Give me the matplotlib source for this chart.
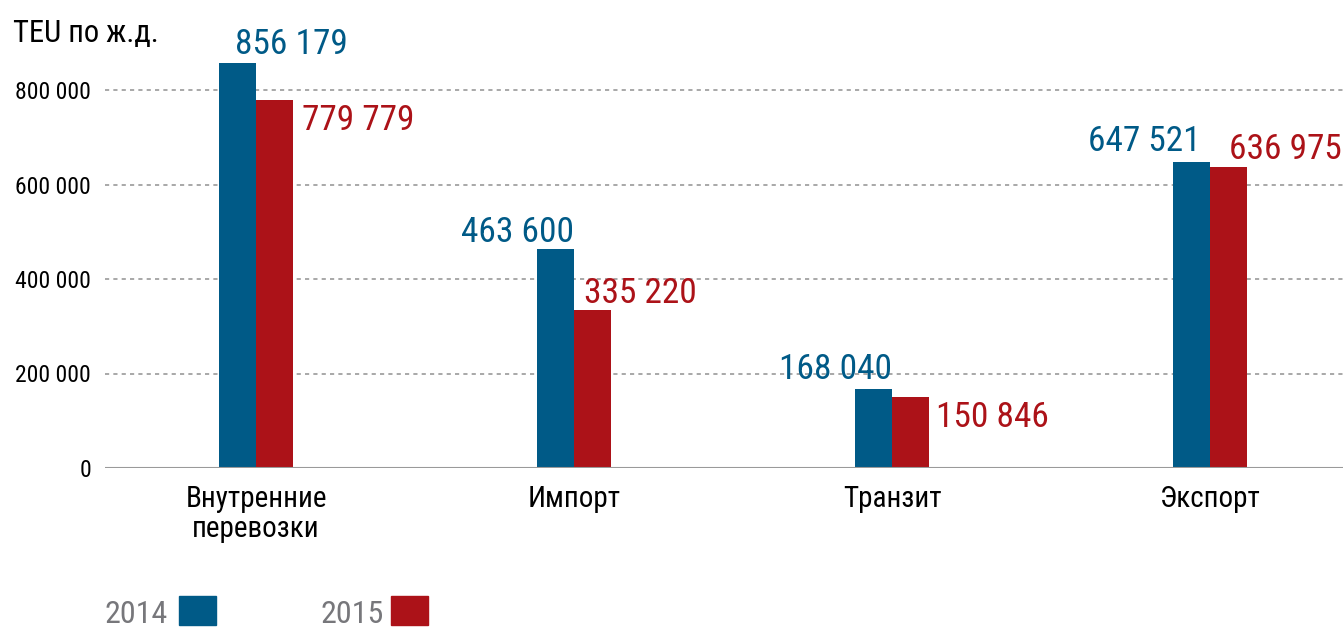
import matplotlib
matplotlib.use("Agg")
import matplotlib.pyplot as plt
from matplotlib.patches import Rectangle

plt.rcParams["font.family"] = ["Roboto Condensed", "Noto Sans Condensed",
                               "DejaVu Sans Condensed", "Liberation Sans Narrow",
                               "Open Sans Condensed", "Roboto"]
plt.rcParams["font.stretch"] = "condensed"

categories = ["Внутренние\nперевозки", "Импорт", "Транзит", "Экспорт"]
values_2014 = [856179, 463600, 168040, 647521]
values_2015 = [779779, 335220, 150846, 636975]
labels_2014 = ["856 179", "463 600", "168 040", "647 521"]
labels_2015 = ["779 779", "335 220", "150 846", "636 975"]
yticks = [0, 200000, 400000, 600000, 800000]
ytick_labels = ["0", "200 000", "400 000", "600 000", "800 000"]
years = ["2014", "2015"]

BLUE = "#005a87"
RED = "#ac1218"
GRAY = "#77777b"

fig = plt.figure(figsize=(13.43, 6.27), dpi=100)
# axes: x from 105 px to right edge, zero at y=468 px
ax = fig.add_axes([105 / 1343, (627 - 468) / 627, 1 - 105 / 1343, 468 / 627])

w = 0.116
x = list(range(len(categories)))
ax.bar([i - w / 2 for i in x], values_2014, width=w, color=BLUE, zorder=3)
ax.bar([i + w / 2 for i in x], values_2015, width=w, color=RED, zorder=3)

ax.set_xlim(-0.475, 3.418)
ax.set_ylim(0, 800000 * 468 / 378)

ax.set_yticks(yticks)
ax.set_yticklabels(ytick_labels, fontsize=17)
ax.tick_params(axis="y", length=0, pad=10)
ax.set_xticks(x)
ax.set_xticklabels(categories, fontsize=21, linespacing=1.1)
ax.tick_params(axis="x", length=0, pad=12)

for y in yticks[1:]:
    ax.axhline(y, color="#9a9a9a", lw=1.2, ls=(0, (2.5, 2.5)), zorder=1)
ax.axhline(0, color="#9a9a9a", lw=1.5, zorder=4)
for s in ax.spines.values():
    s.set_visible(False)

# value label placement: (anchor x offset from category, ha, dx px, dy px)
blue_pos = [(-w, "left", 16, 9), (0, "right", 0, 7),
            (0, "right", 0, 10), (0, "right", -9, 11)]
red_pos = [(w, "left", 9, -30), (0, "left", 10, 7),
           (w, "left", 7, -30), (0, "left", 19, 8)]
for i in x:
    off, ha, dx, dy = blue_pos[i]
    ax.annotate(labels_2014[i], (i + off, values_2014[i]), xytext=(dx, dy),
                textcoords="offset pixels", ha=ha, va="baseline", fontsize=25.5,
                color=BLUE, annotation_clip=False)
    off, ha, dx, dy = red_pos[i]
    ax.annotate(labels_2015[i], (i + off, values_2015[i]), xytext=(dx, dy),
                textcoords="offset pixels", ha=ha, va="baseline", fontsize=25.5,
                color=RED, annotation_clip=False)

fig.text(13 / 1343, 1 - 42 / 627, "TEU по ж.д.", fontsize=22, color="black",
         va="baseline")

# legend
for year, col, tx, bx in [(years[0], BLUE, 105, 179), (years[1], RED, 320, 391)]:
    fig.text(tx / 1343, 1 - 623 / 627, year, fontsize=23, color=GRAY, va="baseline")
    fig.patches.append(Rectangle((bx / 1343, 1 - 625 / 627), 37 / 1343, 29 / 627,
                                 transform=fig.transFigure, color=col))

fig.savefig("out.png", dpi=100)
